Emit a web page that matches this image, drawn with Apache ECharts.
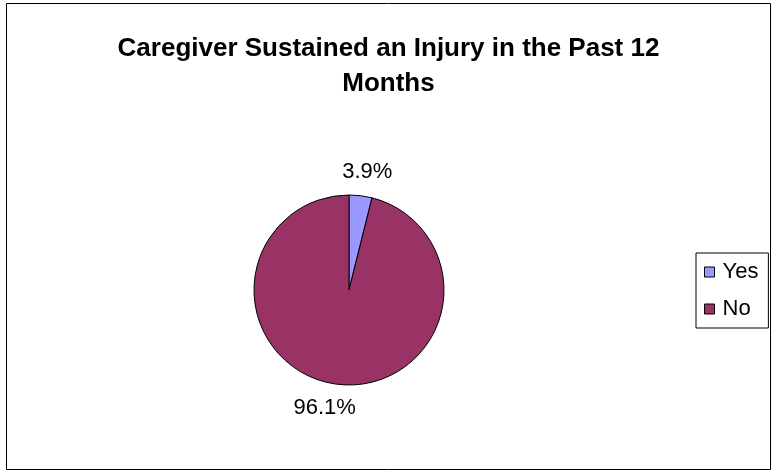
<!DOCTYPE html>
<html>
<head>
<meta charset="utf-8">
<script src="https://cdn.jsdelivr.net/npm/echarts@6/dist/echarts.min.js"></script>
<style>
  html, body { margin: 0; padding: 0; background: #fff; }
  #chart { width: 777px; height: 472px; }
</style>
</head>
<body>
<div id="chart"></div>
<script>
// data
let categories = ['Yes', 'No'];
let shares = [3.9, 96.1];
let colors = ['#9999ff', '#993366'];

window.addEventListener('load', function () {
    let chart = echarts.init(document.getElementById('chart'));
    let option = {
        animation: false,
        color: colors,
        title: {
            text: 'Caregiver Sustained an Injury in the Past 12\nMonths',
            left: 'center',
            top: 31,
            padding: 0,
            textStyle: {
                fontFamily: 'Liberation Sans, Arial',
                fontSize: 26,
                fontWeight: 'bold',
                color: '#000',
                lineHeight: 35
            }
        },
        graphic: [{
            type: 'rect',
            shape: { x: 6.5, y: 3.5, width: 764, height: 466 },
            style: { fill: 'none', stroke: '#000', lineWidth: 1 },
            silent: true
        }],
        legend: {
            orient: 'vertical',
            left: 696,
            top: 253,
            data: categories,
            icon: 'rect',
            itemWidth: 10,
            itemHeight: 10,
            itemGap: 15,
            itemStyle: { borderColor: '#000', borderWidth: 1 },
            borderColor: '#000',
            borderWidth: 1,
            borderRadius: 0,
            padding: [8, 10, 8, 8],
            textStyle: {
                fontFamily: 'Liberation Sans, Arial',
                fontSize: 22,
                color: '#000',
                padding: [0, 0, 0, 3]
            }
        },
        series: [{
            type: 'pie',
            center: [349, 290],
            radius: 95,
            startAngle: 90,
            clockwise: true,
            itemStyle: { borderColor: '#000', borderWidth: 1 },
            label: {
                show: true,
                position: 'outside',
                formatter: function (p) { return p.value.toFixed(1) + '%'; },
                fontFamily: 'Liberation Sans, Arial',
                fontSize: 22,
                color: '#000'
            },
            labelLine: { show: false, length: 13, length2: 0 },
            // put the label's inner corner on the end of its (hidden) label line,
            // overlapping it a little towards the pie's centre like Excel does
            labelLayout: function (p) {
                let pts = p.labelLinePoints;
                if (!pts) return {};
                let end = pts[1];
                let right = pts[1][0] >= pts[0][0];
                let up = pts[1][1] < pts[0][1];
                return {
                    x: end[0] + (right ? -20 : 20),
                    y: end[1],
                    align: right ? 'left' : 'right',
                    verticalAlign: up ? 'bottom' : 'top'
                };
            },
            emphasis: { disabled: true },
            data: categories.map(function (c, i) {
                return { name: c, value: shares[i] };
            })
        }]
    };
    chart.setOption(option);
}, false);
</script>
</body>
</html>
